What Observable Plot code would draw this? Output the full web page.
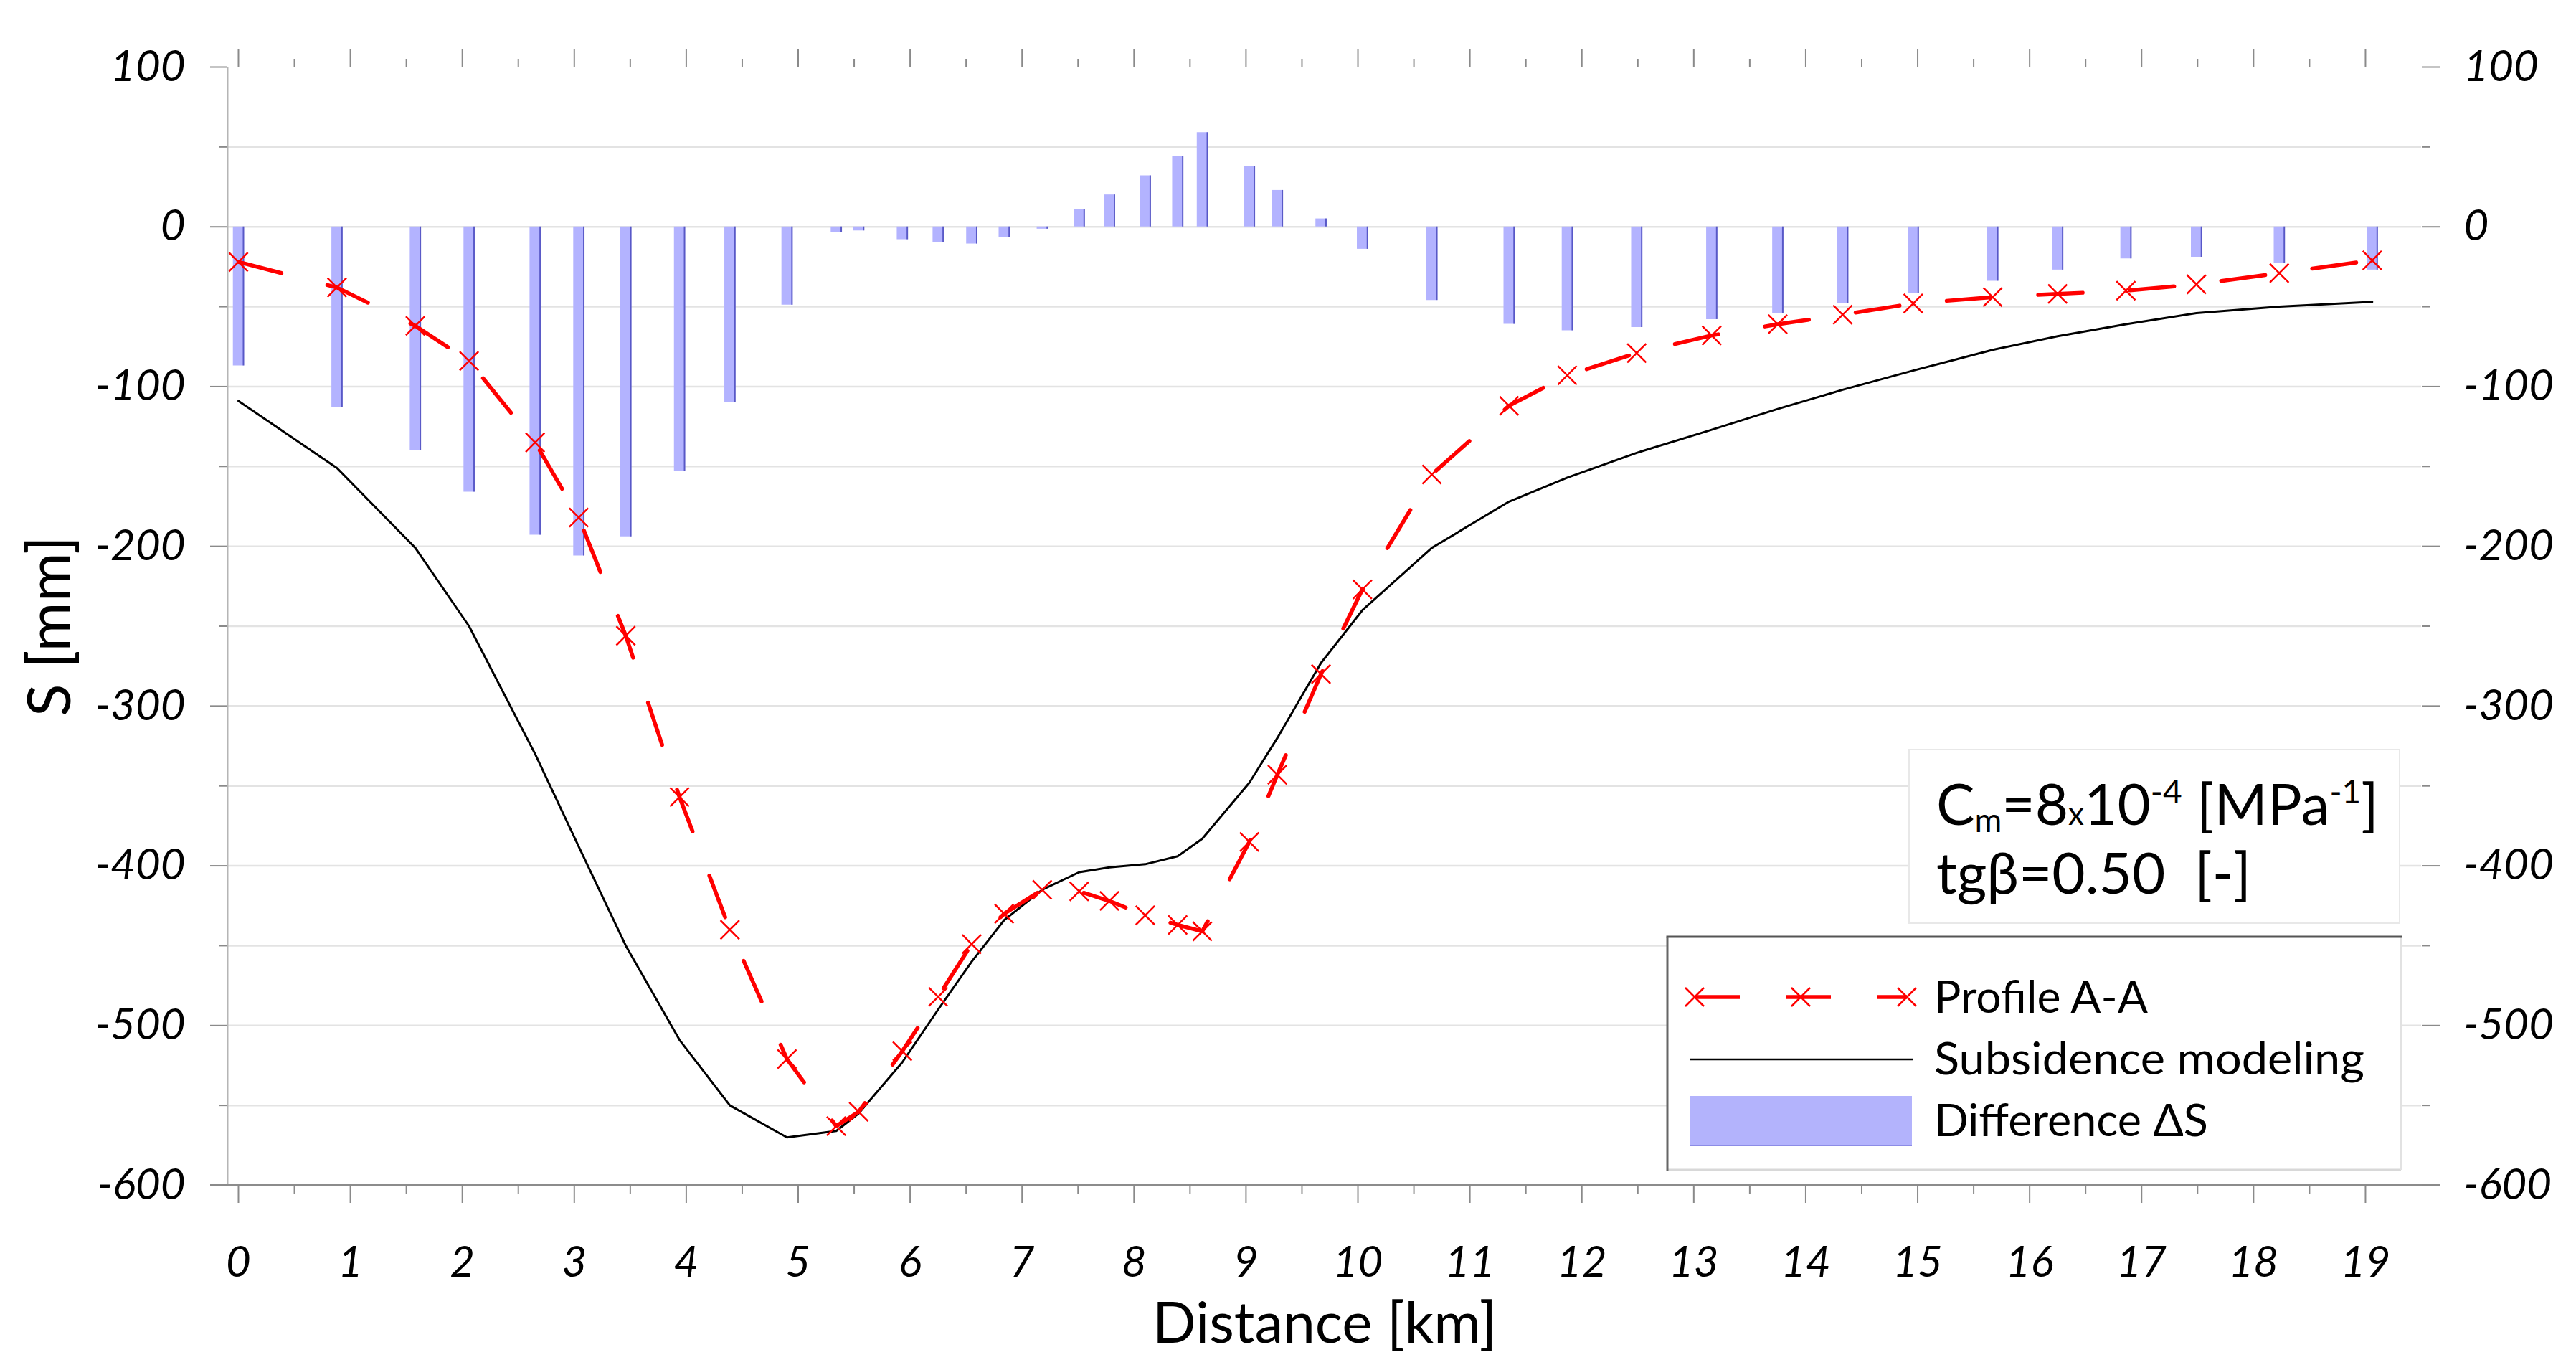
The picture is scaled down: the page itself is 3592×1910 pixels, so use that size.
<!DOCTYPE html>
<html><head><meta charset="utf-8">
<script src="https://cdn.jsdelivr.net/npm/d3@7"></script>
<script src="https://cdn.jsdelivr.net/npm/@observablehq/plot@0.6"></script>
<style>
html,body{margin:0;padding:0;background:#fff;overflow:hidden;}
#wrap{position:relative;width:3592px;height:1910px;font-family:Lato, "DejaVu Sans", sans-serif;}
#wrap svg{display:block;}
#overlay{position:absolute;left:0;top:0;pointer-events:none;}
</style></head>
<body><div id="wrap"></div>
<script>
// ---- data ----
const distance = [0, 0.88, 1.58, 2.06, 2.65, 3.04, 3.46, 3.94, 4.39, 4.9, 5.34, 5.54, 5.93, 6.25, 6.55, 6.84, 7.18, 7.51, 7.78, 8.1, 8.39, 8.61, 9.03, 9.28, 9.67, 10.04, 10.66, 11.35, 11.87, 12.49, 13.16, 13.75, 14.33, 14.96, 15.67, 16.25, 16.86, 17.49, 18.23, 19.06];
const profileAA = [-22, -38, -62, -84, -135, -182, -256, -357, -440, -521, -563, -554, -516, -482, -449, -430, -415, -416, -422, -431, -437, -441, -385, -343, -280, -227, -155, -112, -93, -79, -68, -61, -55, -48, -44, -42, -40, -36, -29, -21];
const modeling = [-109, -151, -201, -250, -330, -388, -450, -509, -550, -570, -566, -555, -523, -490, -460, -434, -415, -404, -401, -399, -394, -383, -348, -320, -273, -240, -201, -172, -157, -141.5, -127, -114, -102, -90, -77, -68.5, -61, -54, -50, -47];
const differenceS = [-87, -113, -140, -166, -193, -206, -194, -153, -110, -49, -3.5, -2.5, -8, -9.6, -10.7, -6.6, -1.4, 11, 20, 32, 44, 59, 38, 22.8, 5, -14, -46, -61, -65, -63, -58, -54, -48, -41.5, -34, -27, -20, -19, -23, -27];

const xTickValues = d3.range(0, 20);
const xMinorTicks = d3.range(0.5, 19.5, 1);
const yTickValues = d3.range(-600, 101, 100);
const yMinorTicks = d3.range(-550, 51, 100);
const gridValues = d3.range(-550, 51, 50);
const xDomain = [-0.096, 19.5];
const yDomain = [-600, 100];

const xLabel = "Distance [km]";
const yLabel = "S [mm]";
const legendLabels = ["Profile A-A", "Subsidence modeling", "Difference ΔS"];

const rows = distance.map((x, i) => ({x, profile: profileAA[i], model: modeling[i], diff: differenceS[i]}));

const tickStroke = "#8a8a8a";
const font = "Lato, 'DejaVu Sans', sans-serif";
const plain = d => String(d);   // hyphen-minus, no decimals
const blank = () => "";

const chart = Plot.plot({
  width: 3592,
  height: 1910,
  marginLeft: 317,
  marginRight: 216,
  marginTop: 93,
  marginBottom: 258,
  style: {fontFamily: font, background: "#fff", color: "#000"},
  x: {domain: xDomain},
  y: {domain: yDomain},
  marks: [
    Plot.gridY(gridValues, {stroke: "#e3e3e3", strokeOpacity: 1, strokeWidth: 2.5}),
    Plot.ruleX(rows, {x: "x", y1: 0, y2: "diff", stroke: "#b3b3ff", strokeWidth: 15.5}),
    Plot.ruleX(rows, {x: "x", y1: 0, y2: "diff", dx: 7, stroke: "#3a3ab4", strokeWidth: 2, strokeOpacity: 0.75}),
    Plot.line(rows, {x: "x", y: "model", stroke: "#000", strokeWidth: 3}),
    Plot.line(rows, {x: "x", y: "profile", stroke: "#ff0000", strokeWidth: 5.5, strokeDasharray: "62,66"}),
    Plot.dot(rows, {x: "x", y: "profile", symbol: "times", r: 12, stroke: "#ff0000", strokeWidth: 2.5}),
    // axis lines
    Plot.ruleX([xDomain[0]], {stroke: "#b5b5b5", strokeWidth: 2}),
    Plot.ruleY([yDomain[0]], {stroke: "#8c8c8c", strokeWidth: 3, insetLeft: -24, insetRight: -26}),
    // left axis
    Plot.axisY(yTickValues, {anchor: "left", tickSize: 24, tickPadding: 35, tickFormat: plain, fontSize: 60, fontStyle: "italic", stroke: tickStroke, strokeWidth: 2, label: null}),
    Plot.axisY(yMinorTicks, {anchor: "left", tickSize: 12, tickFormat: blank, stroke: tickStroke, strokeWidth: 2, label: null}),
    // right axis
    Plot.axisY(yTickValues, {anchor: "right", tickSize: 25, tickPadding: 34, tickFormat: plain, fontSize: 60, fontStyle: "italic", stroke: tickStroke, strokeWidth: 2, label: null}),
    Plot.axisY(yMinorTicks, {anchor: "right", tickSize: 12, tickFormat: blank, stroke: tickStroke, strokeWidth: 2, label: null}),
    // top axis (ticks only)
    Plot.axisX(xTickValues, {anchor: "top", tickSize: 25, tickFormat: blank, stroke: tickStroke, strokeWidth: 2, label: null}),
    Plot.axisX(xMinorTicks, {anchor: "top", tickSize: 12, tickFormat: blank, stroke: tickStroke, strokeWidth: 2, label: null}),
    // bottom axis
    Plot.axisX(xTickValues, {anchor: "bottom", tickSize: 25, tickPadding: 60, tickFormat: plain, fontSize: 60, fontStyle: "italic", stroke: tickStroke, strokeWidth: 2, label: null}),
    Plot.axisX(xMinorTicks, {anchor: "bottom", tickSize: 12, tickFormat: blank, stroke: tickStroke, strokeWidth: 2, label: null}),
    // axis titles
    Plot.text([yLabel], {frameAnchor: "left", dx: -246, rotate: -90, fontSize: 84, fill: "#000", textAnchor: "middle", lineAnchor: "middle"}),
    Plot.text([xLabel], {frameAnchor: "bottom", dy: 194, fontSize: 80, fill: "#000", textAnchor: "middle", lineAnchor: "middle"})
  ]
});

const wrap = document.getElementById("wrap");
wrap.appendChild(chart);

// ---- overlay: annotation box and legend ----
const NS = "http://www.w3.org/2000/svg";
const ov = document.createElementNS(NS, "svg");
ov.setAttribute("id", "overlay");
ov.setAttribute("width", 3592);
ov.setAttribute("height", 1910);
ov.setAttribute("font-family", font);
ov.innerHTML = `
  <rect x="2662" y="1045" width="684" height="242" fill="#fff" stroke="#e8e8e8" stroke-width="2"/>
  <text x="2700" y="1150" font-size="80" fill="#000"><tspan>C</tspan><tspan font-size="46" dy="10">m</tspan><tspan dy="-10">=8</tspan><tspan font-size="44">x</tspan><tspan>10</tspan><tspan font-size="46" dy="-30">-4</tspan><tspan dy="30" xml:space="preserve"> [MPa</tspan><tspan font-size="46" dy="-30">-1</tspan><tspan dy="30">]</tspan></text>
  <text x="2700" y="1246" font-size="80" fill="#000" xml:space="preserve">tgβ=0.50  [-]</text>

  <rect x="2325" y="1306" width="1023" height="325" fill="#fff"/>
  <line x1="2325" y1="1631" x2="3348" y2="1631" stroke="#d8d8d8" stroke-width="3"/>
  <line x1="3348" y1="1306" x2="3348" y2="1631" stroke="#e2e2e2" stroke-width="2"/>
  <line x1="2323.5" y1="1306" x2="3349" y2="1306" stroke="#555" stroke-width="3"/>
  <line x1="2325" y1="1306" x2="2325" y2="1632" stroke="#666" stroke-width="3"/>

  <line x1="2363" y1="1390" x2="2659" y2="1390" stroke="#ff0000" stroke-width="5.5" stroke-dasharray="63,64"/>
  <g stroke="#ff0000" stroke-width="2.5" fill="none">
    <path d="M2350,1377L2376,1403M2350,1403L2376,1377"/>
    <path d="M2498,1377L2524,1403M2498,1403L2524,1377"/>
    <path d="M2646,1377L2672,1403M2646,1403L2672,1377"/>
  </g>
  <line x1="2356" y1="1477" x2="2668" y2="1477" stroke="#000" stroke-width="2.7"/>
  <rect x="2356" y="1528" width="310" height="70" fill="#b3b3fc"/>
  <line x1="2356" y1="1597" x2="2666" y2="1597" stroke="#8c8ce6" stroke-width="2"/>
  <text x="2697" y="1412" font-size="61" fill="#000" textLength="298" lengthAdjust="spacingAndGlyphs">${legendLabels[0]}</text>
  <text x="2697" y="1498" font-size="61" fill="#000" textLength="600" lengthAdjust="spacingAndGlyphs">${legendLabels[1]}</text>
  <text x="2697" y="1584" font-size="61" fill="#000" textLength="382" lengthAdjust="spacingAndGlyphs">${legendLabels[2]}</text>
`;
wrap.appendChild(ov);
</script>
</body></html>
